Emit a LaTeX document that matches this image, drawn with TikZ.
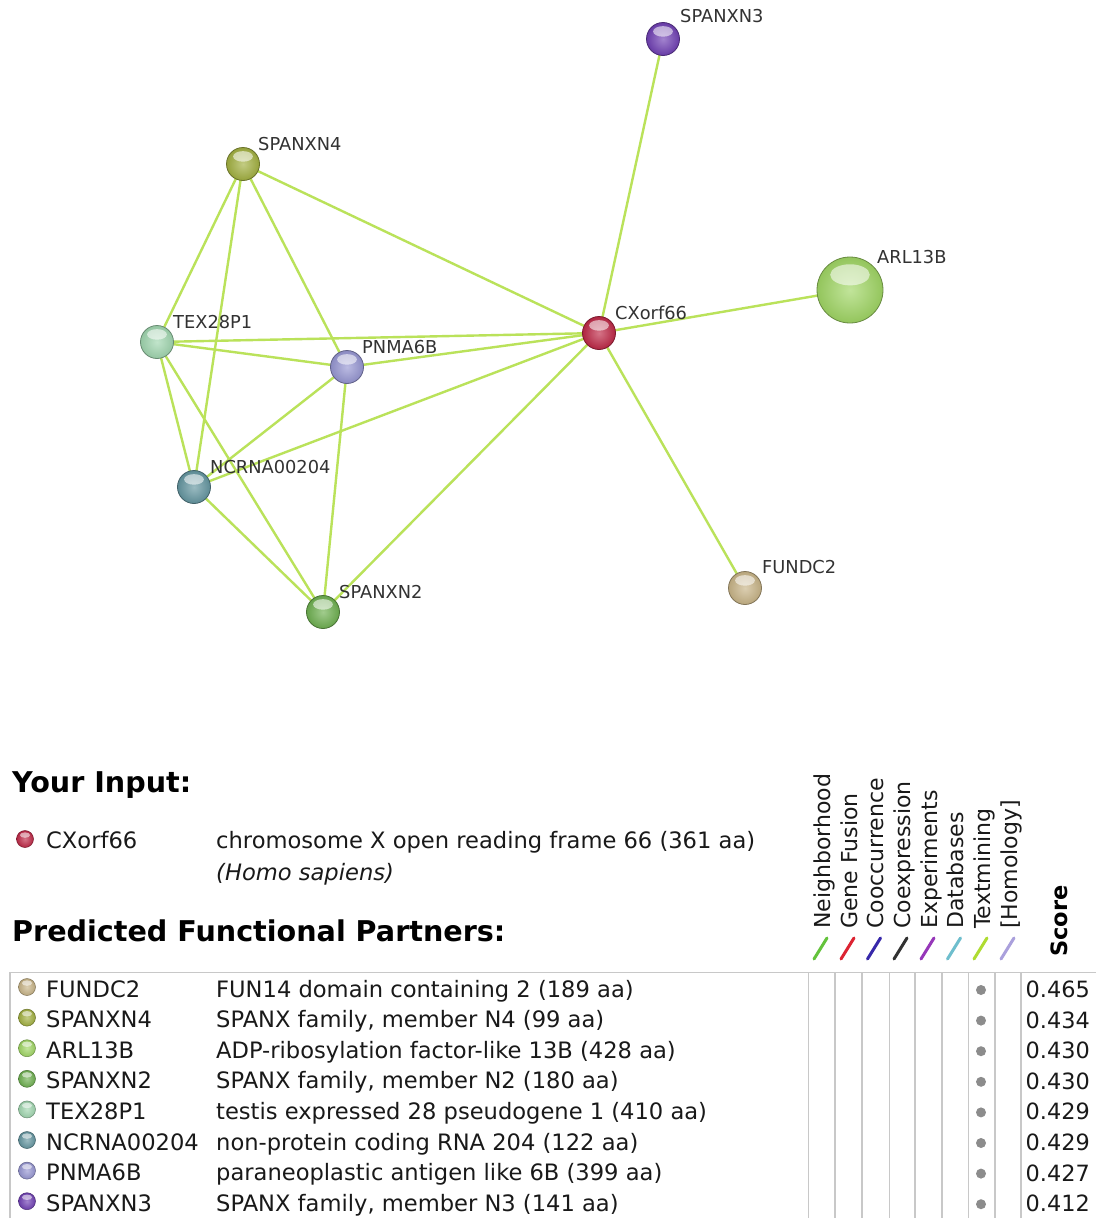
\documentclass[tikz,border=0pt]{standalone}
\usepackage{fontspec}
\setmainfont{DejaVu Sans}
\usetikzlibrary{backgrounds,calc}
\definecolor{edgecol}{RGB}{186,226,90}
\definecolor{labelgray}{RGB}{50,50,50}
\definecolor{txt}{RGB}{25,25,25}
\definecolor{gridgray}{RGB}{200,200,200}
\definecolor{dotgray}{RGB}{140,140,140}
\definecolor{cSPthree}{RGB}{112,64,180}
\definecolor{cSPfour}{RGB}{162,176,64}
\definecolor{cARL}{RGB}{160,214,100}
\definecolor{cCX}{RGB}{190,40,70}
\definecolor{cTEX}{RGB}{160,214,175}
\definecolor{cPNMA}{RGB}{150,150,210}
\definecolor{cNC}{RGB}{100,150,160}
\definecolor{cSPtwo}{RGB}{110,176,80}
\definecolor{cFUN}{RGB}{200,180,135}
\definecolor{sNb}{RGB}{100,195,60}
\definecolor{sGF}{RGB}{220,35,50}
\definecolor{sCo}{RGB}{55,40,170}
\definecolor{sCx}{RGB}{50,50,50}
\definecolor{sEx}{RGB}{150,55,185}
\definecolor{sDb}{RGB}{110,190,205}
\definecolor{sTm}{RGB}{175,220,50}
\definecolor{sHo}{RGB}{170,160,220}
\tikzset{
  glossy/.style n args={2}{circle, inner sep=0pt, minimum size=#2pt, draw=#1!65!black, line width=0.8pt,
    inner color=#1!65!white, outer color=#1!92!black,
    path picture={
      \fill[white, opacity=0.55]
        ($(path picture bounding box.north)!0.27!(path picture bounding box.south)$)
        ellipse [x radius=0.3*#2, y radius=0.16*#2];
    }},
  prot/.style={glossy={#1}{33}},
  bigprot/.style={glossy={#1}{66}},
  tball/.style={glossy={#1}{17}, line width=0.5pt},
  edge/.style={draw=edgecol, line width=2.4pt},
  lbl/.style={anchor=base west, inner sep=0pt, text=labelgray, font=\fontsize{17.8}{20}\selectfont},
  heading/.style={anchor=base west, inner sep=0pt, text=black, font=\fontsize{28.6}{32}\selectfont\bfseries},
  ttext/.style={anchor=base west, inner sep=0pt, text=txt, font=\fontsize{22.6}{26}\selectfont},
  tscore/.style={anchor=base east, inner sep=0pt, text=txt, font=\fontsize{22.4}{26}\selectfont},
  hdr/.style={anchor=base west, inner sep=0pt, rotate=90, text=txt, font=\fontsize{22}{26}\selectfont},
  slash/.style={line width=3pt, line cap=round},
  grid/.style={draw=gridgray, line width=1.6pt}
}
\begin{document}
\begin{tikzpicture}[x=1pt,y=-1pt]
\useasboundingbox (0,0) rectangle (1096,1218);
% network nodes
\node[prot=cSPthree] (n3) at (663,39) {};
\node[prot=cSPfour] (n4) at (243,164) {};
\node[bigprot=cARL] (arl) at (850,290) {};
\node[prot=cCX] (cx) at (599,333) {};
\node[prot=cTEX] (tex) at (157,342) {};
\node[prot=cPNMA] (pn) at (347,367) {};
\node[prot=cNC] (nc) at (194,487) {};
\node[prot=cSPtwo] (n2) at (323,612) {};
\node[prot=cFUN] (fun) at (745,588) {};
% labels
\node[lbl] (l3) at (680,23) {SPANXN3};
\node[lbl] (l4) at (258,150) {SPANXN4};
\node[lbl] (larl) at (877,263) {ARL13B};
\node[lbl] (lcx) at (615,319) {CXorf66};
\node[lbl] (ltex) at (173,328) {TEX28P1};
\node[lbl] (lpn) at (362,353) {PNMA6B};
\node[lbl] (lnc) at (210,473) {NCRNA00204};
\node[lbl] (l2) at (339,598) {SPANXN2};
\node[lbl] (lfun) at (762,573) {FUNDC2};
\begin{scope}[on background layer]
\fill[white] (0,0) rectangle (1096,1218);
\draw[edge] (n3.center) -- (cx.center);
\draw[edge] (n4.center) -- (cx.center);
\draw[edge] (n4.center) -- (tex.center);
\draw[edge] (n4.center) -- (nc.center);
\draw[edge] (n4.center) -- (pn.center);
\draw[edge] (arl.center) -- (cx.center);
\draw[edge] (tex.center) -- (cx.center);
\draw[edge] (tex.center) -- (pn.center);
\draw[edge] (tex.center) -- (nc.center);
\draw[edge] (tex.center) -- (n2.center);
\draw[edge] (pn.center) -- (cx.center);
\draw[edge] (pn.center) -- (nc.center);
\draw[edge] (pn.center) -- (n2.center);
\draw[edge] (nc.center) -- (cx.center);
\draw[edge] (nc.center) -- (n2.center);
\draw[edge] (n2.center) -- (cx.center);
\draw[edge] (cx.center) -- (fun.center);
\end{scope}
% input section
\node[heading] (hin) at (12,792) {Your Input:};
\node[tball=cCX] (bcx) at (25,839) {};
\node[ttext] (incx) at (46,848) {CXorf66};
\node[ttext] (indesc) at (216,848) {chromosome X open reading frame 66 (361 aa)};
\node[ttext] (inorg) at (216,880) {\itshape (Homo sapiens)};
\node[heading] (hpart) at (12,941) {Predicted Functional Partners:};
% column headers
\node[hdr] (hNb) at (830,929) {Neighborhood};
\node[hdr] (hGF) at (857,929) {Gene Fusion};
\node[hdr] (hCo) at (883.5,929) {Cooccurrence};
\node[hdr] (hCx) at (910,929) {Coexpression};
\node[hdr] (hEx) at (937,929) {Experiments};
\node[hdr] (hDb) at (963.5,929) {Databases};
\node[hdr] (hTm) at (990,929) {Textmining};
\node[hdr] (hHo) at (1017,929) {[Homology]};
\node[hdr, font=\fontsize{22.5}{26}\selectfont\bfseries, text=black] (hSc) at (1067,957) {Score};
\foreach \xb/\c in {830/sNb, 857/sGF, 883.5/sCo, 910/sCx, 937/sEx, 963.5/sDb, 990/sTm, 1017/sHo}
  \draw[slash, draw=\c] (\xb-16,959) -- (\xb-3,938);
% table grid
\draw[grid] (1096,972.5) -- (10,972.5) -- (10,1220);
\foreach \x in {808.3, 835, 861.7, 889.3, 915, 941.7, 968.3, 995, 1020.7}
  \draw[grid] (\x,972.5) -- (\x,1220);
% table rows
\foreach \i/\nm/\ds/\sc/\col in {
  0/FUNDC2/{FUN14 domain containing 2 (189 aa)}/0.465/cFUN,
  1/SPANXN4/{SPANX family, member N4 (99 aa)}/0.434/cSPfour,
  2/ARL13B/{ADP-ribosylation factor-like 13B (428 aa)}/0.430/cARL,
  3/SPANXN2/{SPANX family, member N2 (180 aa)}/0.430/cSPtwo,
  4/TEX28P1/{testis expressed 28 pseudogene 1 (410 aa)}/0.429/cTEX,
  5/NCRNA00204/{non-protein coding RNA 204 (122 aa)}/0.429/cNC,
  6/PNMA6B/{paraneoplastic antigen like 6B (399 aa)}/0.427/cPNMA,
  7/SPANXN3/{SPANX family, member N3 (141 aa)}/0.412/cSPthree}{
  \pgfmathsetmacro{\cy}{989+30.6*\i}
  \node[tball=\col] (tb\i) at (27,\cy-2) {};
  \node[ttext] (tn\i) at (46,\cy+8) {\nm};
  \node[ttext] (td\i) at (216,\cy+8) {\ds};
  \fill[dotgray] (981,\cy+1) circle (5pt);
  \node[tscore] (ts\i) at (1090,\cy+8.5) {\sc};
}
\end{tikzpicture}
\end{document}
